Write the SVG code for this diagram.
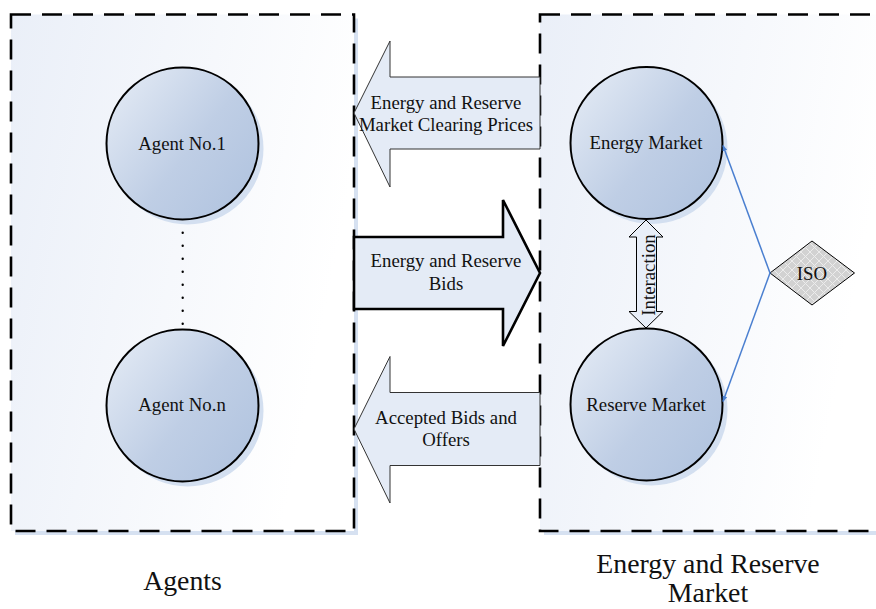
<svg xmlns="http://www.w3.org/2000/svg" width="876" height="609" viewBox="0 0 876 609">
<style>
text{font-family:"Liberation Serif","Times New Roman",serif;fill:#111;text-anchor:middle}
.t{font-size:18.8px}
.big{font-size:27.8px}
.box{stroke:#000;stroke-width:2.6;stroke-dasharray:20 11;fill:url(#boxg)}
.shadow{fill:#d6e1f1}
.circ{fill:url(#cg);stroke:#000;stroke-width:2}
.cshadow{fill:#d3dff0}
.arr{fill:#e4ebf6;stroke:#333;stroke-width:1}
.conn{stroke:#4a7fd0;stroke-width:1.5;fill:none;marker-end:url(#ah)}
</style>
<defs>
<linearGradient id="boxg" x1="0" y1="0" x2="1" y2="0.3">
<stop offset="0" stop-color="#eaeff8"/>
<stop offset="1" stop-color="#ffffff"/>
</linearGradient>
<linearGradient id="cg" x1="0" y1="0.1" x2="1" y2="0.9">
<stop offset="0" stop-color="#e4ebf5"/>
<stop offset="0.55" stop-color="#bfcee5"/>
<stop offset="1" stop-color="#b0c3df"/>
</linearGradient>
<pattern id="hatch" width="9" height="9" patternUnits="userSpaceOnUse">
<rect width="9" height="9" fill="#d2d2d2"/>
<path d="M0 0L9 9M9 0L0 9" stroke="#ececec" stroke-width="1"/>
</pattern>
<marker id="ah" viewBox="0 0 10 10" refX="9" refY="5" markerWidth="6" markerHeight="6" orient="auto" markerUnits="userSpaceOnUse">
<path d="M0 1L10 5L0 9z" fill="#4a7fd0"/>
</marker>
</defs>
<rect width="876" height="609" fill="#fff"/>
<g id="agents-box">
<rect class="shadow" x="15" y="18.5" width="343" height="516.5"/>
<rect class="box" x="11" y="14.5" width="343" height="516.5"/>
<text class="big" x="182.5" y="590">Agents</text>
</g>
<g id="market-box">
<rect class="shadow" x="544" y="18.5" width="340" height="516.5"/>
<rect class="box" x="540" y="14.5" width="340" height="516.5"/>
<text class="big" x="708" y="573">Energy and Reserve</text>
<text class="big" x="708" y="602">Market</text>
</g>
<g id="agent1">
<circle class="cshadow" cx="187.5" cy="148.5" r="76"/>
<circle class="circ" cx="182.5" cy="143.5" r="76"/>
<text class="t" x="182" y="150">Agent No.1</text>
</g>
<g id="agentn">
<circle class="cshadow" cx="187.5" cy="410.5" r="76"/>
<circle class="circ" cx="182.5" cy="405.5" r="76"/>
<text class="t" x="182" y="411">Agent No.n</text>
</g>
<g id="dots">
<line x1="182.7" y1="232.7" x2="182.7" y2="324" stroke="#000" stroke-width="2.4" stroke-linecap="round" stroke-dasharray="0 13"/>
</g>
<g id="energy-market">
<circle class="cshadow" cx="651.5" cy="148" r="76"/>
<circle class="circ" cx="646.5" cy="143" r="76"/>
<text class="t" x="646" y="149.3">Energy Market</text>
</g>
<g id="reserve-market">
<circle class="cshadow" cx="651.5" cy="409.5" r="76"/>
<circle class="circ" cx="646.5" cy="404.5" r="76"/>
<text class="t" x="646" y="410.7">Reserve Market</text>
</g>
<g id="iso">
<polygon points="770,273 812,241 854.5,273 812,305" fill="url(#hatch)" stroke="#000" stroke-width="1"/>
<text class="t" x="812" y="279.5">ISO</text>
</g>
<g id="connectors">
<polygon id="prices-arrow" class="arr" points="354,113 390,41 390,77 540,77 540,149 390,149 390,187"/>
<text class="t" x="446" y="108.5">Energy and Reserve</text>
<text class="t" x="446" y="131">Market Clearing Prices</text>
<polygon id="bids-arrow" points="354,237 503,237 503,200 540,273 503,346 503,309 354,309" fill="#e4ebf6" stroke="#000" stroke-width="2.6" stroke-linejoin="miter"/>
<text class="t" x="446" y="266.7">Energy and Reserve</text>
<text class="t" x="446" y="290">Bids</text>
<polygon id="accepted-arrow" class="arr" points="354,429 390,356.5 390,392.5 540,392.5 540,465.5 390,465.5 390,503"/>
<text class="t" x="446" y="424">Accepted Bids and</text>
<text class="t" x="446" y="446">Offers</text>
<polygon id="interaction-arrow" points="646,220 663,237 656.5,237 656.5,311.5 663,311.5 646,328 629,311.5 636.5,311.5 636.5,237 629,237" fill="#e8eef8" stroke="#000" stroke-width="1"/>
<text class="t" transform="translate(654.5,275) rotate(-90)" x="0" y="0">Interaction</text>
<path class="conn" d="M770,273L723,145.5"/>
<path class="conn" d="M770,273L723,401.5"/>
</g>
</svg>
